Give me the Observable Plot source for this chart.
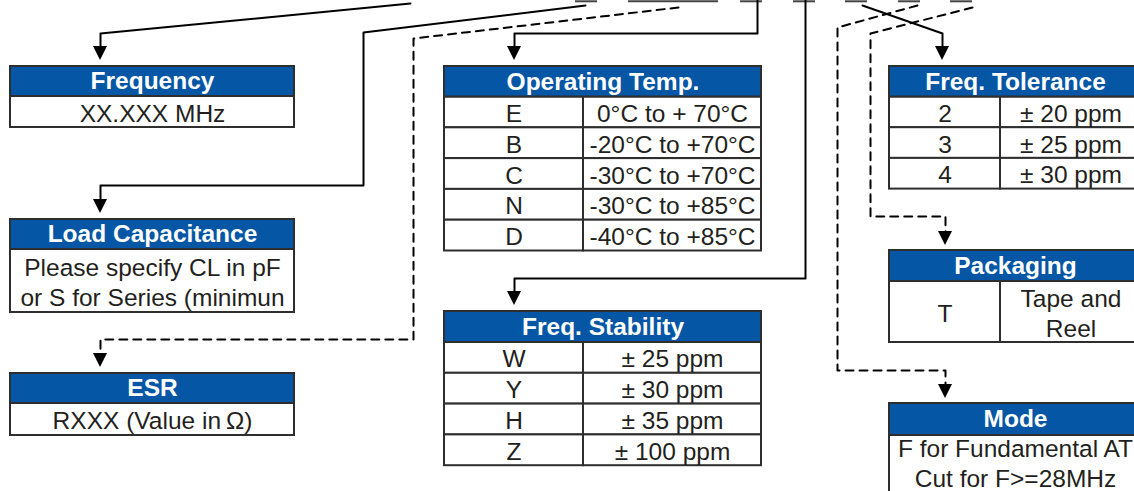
<!DOCTYPE html>
<html>
<head>
<meta charset="utf-8">
<script src="https://cdn.jsdelivr.net/npm/d3@7"></script>
<script src="https://cdn.jsdelivr.net/npm/@observablehq/plot@0.6"></script>
<style>
  html, body { margin: 0; padding: 0; background: #fff; overflow: hidden; }
  #chart svg { display: block; }
</style>
</head>
<body>
<div id="chart"></div>
<script>
// ---- content ----
const titles = ["Frequency", "Load Capacitance", "ESR", "Operating Temp.", "Freq. Stability", "Freq. Tolerance", "Packaging", "Mode"];
const freqRows = ["XX.XXX MHz"];
const loadRows = ["Please specify CL in pF\nor S for Series (minimun"];
const esrRows = ["RXXX (Value in\u2009\u03A9)"];
const tempCodes = ["E", "B", "C", "N", "D"];
const tempRanges = ["0°C to + 70°C", "-20°C to +70°C", "-30°C to +70°C", "-30°C to +85°C", "-40°C to +85°C"];
const stabCodes = ["W", "Y", "H", "Z"];
const stabValues = ["± 25 ppm", "± 30 ppm", "± 35 ppm", "± 100 ppm"];
const tolCodes = ["2", "3", "4"];
const tolValues = ["± 20 ppm", "± 25 ppm", "± 30 ppm"];
const packCodes = ["T"];
const packValues = ["Tape and\nReel"];
const modeRows = ["F for Fundamental AT\nCut for F>=28MHz"];

// ---- layout (diagram coordinates) ----
const layout = [
  {title: titles[0], x1: 10, x2: 294, split: null, top: 66, head: 30, rowH: [31], rows: freqRows.map(t => [t])},
  {title: titles[1], x1: 10, x2: 294, split: null, top: 219, head: 30, rowH: [63], rows: loadRows.map(t => [t])},
  {title: titles[2], x1: 10, x2: 294, split: null, top: 373, head: 30, rowH: [32], rows: esrRows.map(t => [t])},
  {title: titles[3], x1: 444, x2: 761, split: 583, top: 66, head: 30.5, rowH: [30.8, 30.8, 30.8, 30.8, 30.8], rows: tempCodes.map((c, i) => [c, tempRanges[i]])},
  {title: titles[4], x1: 444, x2: 761, split: 583, top: 311, head: 31, rowH: [30.8, 30.8, 30.8, 30.8], rows: stabCodes.map((c, i) => [c, stabValues[i]])},
  {title: titles[5], x1: 889, x2: 1141, split: 1000, top: 66, head: 30.5, rowH: [30.7, 30.7, 30.7], rows: tolCodes.map((c, i) => [c, tolValues[i]])},
  {title: titles[6], x1: 889, x2: 1141, split: 1000, top: 250, head: 31, rowH: [61], rows: packCodes.map((c, i) => [c, packValues[i]])},
  {title: titles[7], x1: 889, x2: 1141, split: null, top: 403, head: 32, rowH: [70], textDy: -8, rows: modeRows.map(t => [t])}
];

const connectors = [
  {id: "freq", dashed: false, pts: [[410, 3], [100, 33], [100, 46]]},
  {id: "load", dashed: false, pts: [[585, 5], [363, 32], [363, 185], [100, 185], [100, 199]]},
  {id: "esr", dashed: true, pts: [[678, 7], [413, 38], [413, 339], [100, 339], [100, 353]]},
  {id: "temp", dashed: false, pts: [[757, 0], [757, 33], [514, 33], [514, 46]]},
  {id: "stab", dashed: false, pts: [[805, 0], [805, 278], [514, 278], [514, 291]]},
  {id: "tol", dashed: false, pts: [[862, 5], [942, 33], [942, 46]]},
  {id: "pack", dashed: true, pts: [[972, 7], [870, 33], [870, 216], [945, 216], [945, 231]]},
  {id: "mode", dashed: true, pts: [[917, 5], [837, 27], [837, 370], [945, 370], [945, 384]]}
];

const topUnderlines = [[575, 597], [628, 718], [740, 762], [793, 815], [845, 867], [898, 920], [950, 972]];

// ---- build mark data ----
const headers = [], cells = [], cellTexts = [];
for (const b of layout) {
  headers.push({x1: b.x1, x2: b.x2, y1: b.top, y2: b.top + b.head, title: b.title});
  let y = b.top + b.head;
  const dy = b.textDy || 0;
  b.rows.forEach((r, i) => {
    const h = b.rowH[i];
    if (b.split != null && r.length === 2) {
      cells.push({x1: b.x1, x2: b.split, y1: y, y2: y + h});
      cells.push({x1: b.split, x2: b.x2, y1: y, y2: y + h});
      cellTexts.push({x: (b.x1 + b.split) / 2, y: y + h / 2 + dy, text: r[0]});
      cellTexts.push({x: (b.split + b.x2) / 2, y: y + h / 2 + dy, text: r[1]});
    } else {
      cells.push({x1: b.x1, x2: b.x2, y1: y, y2: y + h});
      cellTexts.push({x: (b.x1 + b.x2) / 2, y: y + h / 2 + dy, text: r[0]});
    }
    y += h;
  });
}

const linePts = (dashed) => connectors.filter(c => c.dashed === dashed)
  .flatMap(c => c.pts.map(([x, y]) => ({id: c.id, x, y})));

const arrowPts = connectors.flatMap(c => {
  const [x, y] = c.pts[c.pts.length - 1];
  return [
    {id: c.id, x: x - 7, y1: y, y2: y},
    {id: c.id, x: x, y1: y, y2: y + 14},
    {id: c.id, x: x + 7, y1: y, y2: y}
  ];
});

const blue = "#0556a5";
const border = "#2e2e2e";
const ink = "#231f20";

const chart = Plot.plot({
  width: 1134,
  height: 491,
  margin: 0,
  x: {domain: [0, 1134], range: [0, 1134], axis: null},
  y: {domain: [0, 491], range: [0, 491], axis: null},
  style: {fontFamily: "'Liberation Sans', Arial, Helvetica, sans-serif", background: "white"},
  marks: [
    Plot.ruleY(topUnderlines, {x1: d => d[0], x2: d => d[1], y: 0.8, stroke: "#444", strokeWidth: 2}),
    Plot.line(linePts(false), {x: "x", y: "y", z: "id", stroke: "black", strokeWidth: 2, curve: "linear"}),
    Plot.line(linePts(true), {x: "x", y: "y", z: "id", stroke: "black", strokeWidth: 2, strokeDasharray: "8,6", curve: "linear"}),
    Plot.areaY(arrowPts, {x: "x", y1: "y1", y2: "y2", z: "id", fill: "black", curve: "linear"}),
    Plot.rect(cells, {x1: "x1", x2: "x2", y1: "y1", y2: "y2", fill: "white", stroke: border, strokeWidth: 2}),
    Plot.rect(headers, {x1: "x1", x2: "x2", y1: "y1", y2: "y2", fill: blue, stroke: border, strokeWidth: 2}),
    Plot.text(headers, {x: d => (d.x1 + d.x2) / 2, y: d => (d.y1 + d.y2) / 2, text: "title", fill: "white", fontWeight: "bold", fontSize: 24.5}),
    Plot.text(cellTexts, {x: "x", y: "y", text: "text", fill: ink, fontSize: 24.5, lineHeight: 1.22})
  ]
});
document.getElementById("chart").appendChild(chart);
</script>
</body>
</html>
